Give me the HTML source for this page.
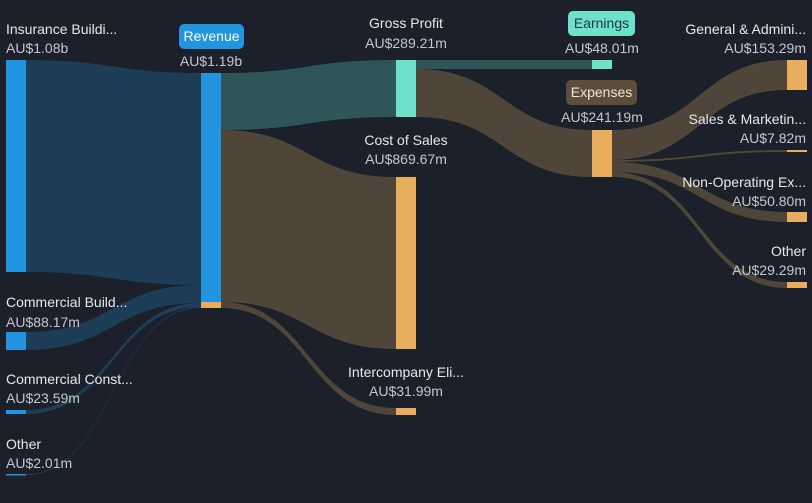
<!DOCTYPE html>
<html><head><meta charset="utf-8"><style>
html,body{margin:0;padding:0;background:#1b202b;}
svg{display:block;font-family:"Liberation Sans",sans-serif;font-size:14px;}
.l{fill:#e6e8eb}.v{fill:#c3c8cf}
</style></head><body>
<svg width="812" height="503" viewBox="0 0 812 503">
<rect width="812" height="503" fill="#1b202b"/>
<g>
<path d="M26 60 C113 60 113 73 201 73 L201 285 C113 285 113 272 26 272 Z" fill="#1e3d57"/>
<path d="M26 332 C113 332 113 285 201 285 L201 303 C113 303 113 350 26 350 Z" fill="#1e3d57"/>
<path d="M26 410 C113 410 113 303 201 303 L201 307 C113 307 113 414 26 414 Z" fill="#1e3d57"/>
<path d="M26 474 C113 474 113 307 201 307 L201 308 C113 308 113 475 26 475 Z" fill="#1e3d57"/>
<path d="M221 73 C308 73 308 60 396 60 L396 117 C308 117 308 130 221 130 Z" fill="#2e5558"/>
<path d="M221 130 C308 130 308 177 396 177 L396 349 C308 349 308 302 221 302 Z" fill="#4f4538"/>
<path d="M221 302 C308 302 308 408 396 408 L396 415 C308 415 308 308 221 308 Z" fill="#4f4538"/>
<path d="M416 60 L592 60 L592 69 L416 69 Z" fill="#2e5558"/>
<path d="M416 69 C504 69 504 130 592 130 L592 177 C504 177 504 117 416 117 Z" fill="#4f4538"/>
<path d="M612 130 C700 130 700 60 787 60 L787 90 C700 90 700 160 612 160 Z" fill="#4f4538"/>
<path d="M612 160 C700 160 700 150 787 150 L787 152 C700 152 700 162 612 162 Z" fill="#4f4538"/>
<path d="M612 162 C700 162 700 212 787 212 L787 222 C700 222 700 172 612 172 Z" fill="#4f4538"/>
<path d="M612 172 C700 172 700 282 787 282 L787 288 C700 288 700 177 612 177 Z" fill="#4f4538"/>
</g>
<g fill="#2394df">
<rect x="6" y="60" width="20" height="212"/>
<rect x="6" y="332" width="20" height="18"/>
<rect x="6" y="410" width="20" height="4"/>
<rect x="6" y="474" width="20" height="1.5"/>
<rect x="201" y="73" width="20" height="229"/>
</g>
<rect x="201" y="302" width="20" height="6" fill="#e8ae5e"/>
<rect x="396" y="60" width="20" height="57" fill="#6ee0cc"/>
<rect x="592" y="60" width="20" height="9" fill="#6ee0cc"/>
<g fill="#e8ae5e">
<rect x="396" y="177" width="20" height="172"/>
<rect x="396" y="408" width="20" height="7"/>
<rect x="592" y="130" width="20" height="47"/>
<rect x="787" y="60" width="20" height="30"/>
<rect x="787" y="150" width="20" height="2"/>
<rect x="787" y="212" width="20" height="10"/>
<rect x="787" y="282" width="20" height="6"/>
</g>
<text x="6" y="34" class="l">Insurance Buildi...</text><text x="6" y="53" class="v">AU$1.08b</text>
<text x="6" y="307" class="l">Commercial Build...</text><text x="6" y="327" class="v">AU$88.17m</text>
<text x="6" y="384" class="l">Commercial Const...</text><text x="6" y="403" class="v">AU$23.59m</text>
<text x="6" y="449" class="l">Other</text><text x="6" y="468" class="v">AU$2.01m</text>
<rect x="179" y="24" width="65" height="25" rx="5" fill="#2394df"/>
<text x="211.5" y="41" text-anchor="middle" fill="#ffffff">Revenue</text>
<text x="211" y="66" text-anchor="middle" class="v">AU$1.19b</text>
<g text-anchor="middle">
<text x="406" y="28" class="l">Gross Profit</text><text x="406" y="48" class="v">AU$289.21m</text>
<text x="406" y="145" class="l">Cost of Sales</text><text x="406" y="164" class="v">AU$869.67m</text>
<text x="406" y="377" class="l">Intercompany Eli...</text><text x="406" y="396" class="v">AU$31.99m</text>
</g>
<rect x="568" y="11" width="67" height="25" rx="5" fill="#6ee0cc"/>
<text x="601.5" y="28" text-anchor="middle" fill="#1b3a36">Earnings</text>
<text x="602" y="53" text-anchor="middle" class="v">AU$48.01m</text>
<rect x="566" y="80" width="71" height="25" rx="5" fill="#5c4d3c"/>
<text x="601.5" y="97" text-anchor="middle" fill="#ece6dc">Expenses</text>
<text x="602" y="122" text-anchor="middle" class="v">AU$241.19m</text>
<g text-anchor="end">
<text x="806" y="34" class="l">General &amp; Admini...</text><text x="806" y="53" class="v">AU$153.29m</text>
<text x="806" y="124" class="l">Sales &amp; Marketin...</text><text x="806" y="143" class="v">AU$7.82m</text>
<text x="806" y="187" class="l">Non-Operating Ex...</text><text x="806" y="206" class="v">AU$50.80m</text>
<text x="806" y="256" class="l">Other</text><text x="806" y="275" class="v">AU$29.29m</text>
</g>
</svg>
</body></html>
